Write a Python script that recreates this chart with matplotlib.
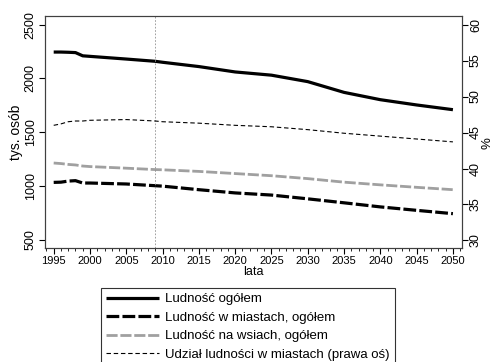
import matplotlib
matplotlib.use("Agg")
import matplotlib.pyplot as plt
from matplotlib.ticker import MultipleLocator

plt.rcParams['font.family'] = ['Liberation Sans', 'DejaVu Sans']

years = [1995, 1996, 1997, 1998, 1999, 2000, 2005, 2009, 2010, 2015, 2020,
         2025, 2030, 2035, 2040, 2045, 2050]
total = [2245, 2245, 2243, 2240, 2210, 2205, 2180, 2159, 2150, 2110, 2060,
         2030, 1970, 1870, 1802, 1753, 1709]
urban = [1033, 1035, 1045, 1049, 1027, 1027, 1018, 1002, 998, 965, 935,
         915, 880, 843, 805, 773, 742]
rural = [1213, 1208, 1200, 1195, 1185, 1180, 1165, 1152, 1150, 1135, 1115,
         1095, 1068, 1035, 1010, 987, 965]
share = [46.0, 46.2, 46.5, 46.6, 46.6, 46.7, 46.8, 46.6, 46.5, 46.3, 46.0,
         45.8, 45.4, 44.9, 44.5, 44.1, 43.7]

labels = ["Ludność ogółem", "Ludność w miastach, ogółem",
          "Ludność na wsiach, ogółem", "Udział ludności w miastach (prawa oś)"]
left_ticks = [500, 1000, 1500, 2000, 2500]
right_ticks = [30, 35, 40, 45, 50, 55, 60]
x_ticks = list(range(1995, 2051, 5))
marker_year = 2009

fig = plt.figure(figsize=(4.96, 3.62), dpi=100)
ax = fig.add_axes([0.0907, 0.315, 0.840, 0.641])
ax2 = ax.twinx()

l1, = ax.plot(years, total, color='black', lw=2.3, solid_capstyle='butt')
l2, = ax.plot(years, urban, color='black', lw=2.3, dashes=(4, 1))
l3, = ax.plot(years, rural, color='#a0a0a0', lw=2.0, dashes=(4, 1))
l4, = ax2.plot(years, share, color='black', lw=0.8, dashes=(4, 2.5))
ax.axvline(marker_year, color='#909090', lw=0.6, ls=(0, (2, 2)))

ax.set_xlim(1993.8, 2051.2)
ax.set_ylim(423, 2581)
ax2.set_ylim(28.96, 61.2)

ax.set_xticks(x_ticks)
ax.xaxis.set_minor_locator(MultipleLocator(1))
ax.set_yticks(left_ticks)
ax2.set_yticks(right_ticks)

for a in (ax, ax2):
    for s in a.spines.values():
        s.set_color('#404040')
        s.set_linewidth(0.8)

ax.tick_params(axis='x', labelsize=8, length=4, width=0.8, pad=2)
ax.tick_params(axis='x', which='minor', length=2.5, width=0.6)
ax.tick_params(axis='y', labelsize=9, length=4, width=0.8, pad=2)
ax2.tick_params(axis='y', labelsize=9, length=4, width=0.8, pad=2)
for t in ax.get_yticklabels():
    t.set_rotation(90)
    t.set_va('center')
for t in ax2.get_yticklabels():
    t.set_rotation(90)
    t.set_va('center')

ax.set_xlabel("lata", fontsize=9, labelpad=0)
ax.set_ylabel("tys. osób", fontsize=10, labelpad=1)
ax2.set_ylabel("%", fontsize=9.5, rotation=90, va='center')
ax2.yaxis.set_label_coords(1.063, 0.45)

leg = fig.legend([l1, l2, l3, l4], labels, loc='upper left',
                 bbox_to_anchor=(0.203, 0.205), ncol=1, fontsize=9.5,
                 frameon=True, fancybox=False, handlelength=4.0,
                 handletextpad=0.5, borderpad=0.4, labelspacing=0.48,
                 borderaxespad=0)
leg.get_frame().set_edgecolor('black')
leg.get_frame().set_linewidth(0.8)

fig.savefig("out.png", dpi=100)
